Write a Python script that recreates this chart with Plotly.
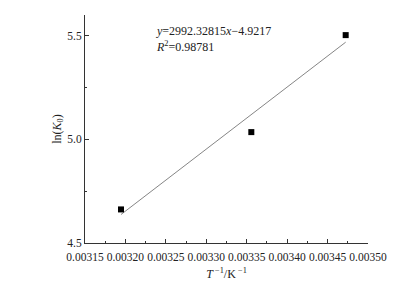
import plotly.graph_objects as go

inv_T = [0.0031945, 0.0033557, 0.0034724]
ln_K0 = [4.662, 5.035, 5.503]
slope = 2992.32815
intercept = -4.9217
r2 = 0.98781
x_ticks = [0.00315, 0.00320, 0.00325, 0.00330, 0.00335, 0.00340, 0.00345, 0.00350]
y_ticks = [4.5, 5.0, 5.5]

fit_x = [inv_T[0], inv_T[-1]]
fit_y = [slope * v + intercept for v in fit_x]

FONT = "Liberation Serif"

fig = go.Figure()
fig.add_trace(go.Scatter(x=fit_x, y=fit_y, mode="lines",
                         line=dict(color="#666666", width=0.8), showlegend=False))
fig.add_trace(go.Scatter(x=inv_T, y=ln_K0, mode="markers",
                         marker=dict(symbol="square", size=6, color="black"),
                         showlegend=False))

fig.add_annotation(x=0.003235, y=5.565, xref="x", yref="y", xanchor="left", yanchor="top",
                   align="left", showarrow=False,
                   text=f"<i>y</i>={slope}<i>x</i>−{abs(intercept)}<br><i>R</i><sup>2</sup>={r2}",
                   font=dict(family=FONT, size=12, color="#222"))

# page body has an 8px default margin; sizes compensate for it
fig.update_layout(
    width=407, height=280,
    margin=dict(l=77, r=47, t=7, b=45),
    paper_bgcolor="white", plot_bgcolor="white",
    font=dict(family=FONT, size=12, color="#222"),
    xaxis=dict(range=[0.00315, 0.00350], tickvals=x_ticks,
               ticktext=[f"{v:.5f}" for v in x_ticks], tickangle=0, automargin=False,
               tickfont=dict(family=FONT, size=11.5), ticklabelstandoff=3,
               showgrid=False, zeroline=False, showline=True, linecolor="#333", linewidth=1,
               ticks="inside", ticklen=4, tickcolor="#333",
               minor=dict(ticks="inside", ticklen=2, dtick=0.000025, tick0=0.00315, tickcolor="#333"),
               title=dict(text="<i>T</i><sup> −1</sup>/K<sup> −1</sup>", standoff=7,
                          font=dict(family=FONT, size=12))),
    yaxis=dict(range=[4.5, 5.6], tickvals=y_ticks,
               ticktext=[f"{v:.1f}" for v in y_ticks], automargin=False,
               tickfont=dict(family=FONT, size=11.5),
               showgrid=False, zeroline=False, showline=True, linecolor="#333", linewidth=1,
               ticks="inside", ticklen=4, tickcolor="#333",
               minor=dict(ticks="inside", ticklen=2, dtick=0.25, tick0=4.5, tickcolor="#333"),
               title=dict(text="ln(<i>K</i><sub>0</sub>)", standoff=3,
                          font=dict(family=FONT, size=12))),
)

fig.write_html("out.html")
